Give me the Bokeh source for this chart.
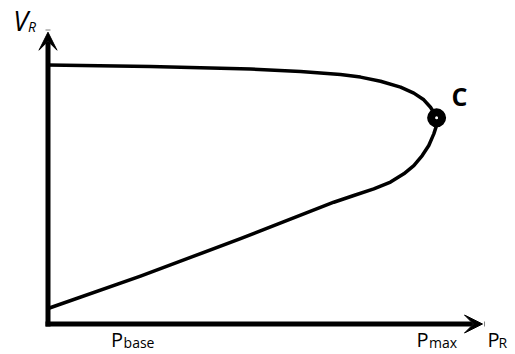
from bokeh.plotting import figure
from bokeh.models import Range1d, Arrow, VeeHead, Label
from bokeh.embed import file_html
from bokeh.resources import INLINE

# --- data (P in units of P_max, V in p.u.) ---
upper_p = [0.0, 0.2635, 0.5206, 0.6491, 0.7519, 0.8033, 0.8548, 0.9062, 0.9404,
           0.9661, 0.9833, 0.9936, 0.9990]
upper_v = [1.004, 0.998, 0.988, 0.979, 0.967, 0.957, 0.941, 0.918, 0.895,
           0.869, 0.840, 0.815, 0.799]
lower_p = [0.9990, 0.9987, 0.9918, 0.9789, 0.9620, 0.9404, 0.9147, 0.8805, 0.8375,
           0.7861, 0.7347, 0.4949, 0.3663, 0.2378, 0.0]
lower_v = [0.799, 0.769, 0.737, 0.692, 0.653, 0.614, 0.582, 0.550, 0.524,
           0.498, 0.472, 0.331, 0.258, 0.186, 0.060]
nose_p = [0.999]
nose_v = [0.799]
p_tick_pos = [0.22, 1.0]
p_tick_sub = ["base", "max"]
x_axis_end = 1.117
y_axis_end = 1.131

FONT = "Open Sans"

p = figure(width=515, height=354, output_backend="svg", toolbar_location=None,
           x_axis_type=None, y_axis_type=None, min_border=0,
           x_range=Range1d(-0.1221, 1.2018), y_range=Range1d(-0.1182, 1.2539))
p.outline_line_color = None
p.grid.visible = False
p.background_fill_color = "white"

# curve
p.line(upper_p + lower_p[1:], upper_v + lower_v[1:], line_color="black",
       line_width=3.5, line_join="round")

# axes with arrows
for xs, ys, xe, ye in [(0, 0, x_axis_end, 0), (0, 0, 0, y_axis_end)]:
    p.add_layout(Arrow(x_start=xs, y_start=ys, x_end=xe, y_end=ye,
                       line_width=5, line_color="black", line_cap="square",
                       end=VeeHead(size=18, fill_color="black", line_color="black",
                                   line_width=1)))

# critical point
p.scatter(nose_p, nose_v, size=11, marker="circle", fill_color="white",
          line_color="black", line_width=8)


def lab(x, y, text, size, dx, dy, align="left", style="normal"):
    # dy is the intended baseline offset; correction for box placement
    p.add_layout(Label(x=x, y=y, text=text, x_offset=dx, y_offset=dy + 0.5 * size,
                       text_align=align, text_baseline="alphabetic",
                       text_font=FONT, text_font_style=style,
                       text_font_size=f"{size}px", text_color="black"))


lab(nose_p[0], nose_v[0], "C", 25, 15, 9, style="bold")

# x tick labels
offsets = [-10.5, -8.5]
for t, sub, off in zip(p_tick_pos, p_tick_sub, offsets):
    lab(t, 0, "P", 20, off, -25.5, align="right")
    lab(t, 0, sub, 14, off + 0.5, -25.5)

# axis titles
lab(x_axis_end, 0, "P", 20, 5, -25.5)
lab(x_axis_end, 0, "R", 14, 16, -25.5)
lab(0, y_axis_end, "V", 27, -20, -1.6, align="right", style="italic")
lab(0, y_axis_end, "R", 14, -20, -1.6, style="italic")

open("out.html", "w").write(file_html(p, INLINE))
